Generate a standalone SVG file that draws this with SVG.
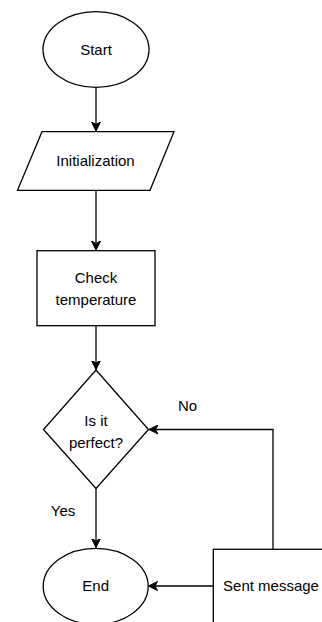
<svg xmlns="http://www.w3.org/2000/svg" width="322" height="622" viewBox="0 0 322 622">
<style>
.s{fill:#fff;stroke:#000;stroke-width:1.3}
.t{font-family:"Liberation Sans",Arial,sans-serif;font-size:15px;fill:#000;text-anchor:middle}
.c{fill:none;stroke:#000;stroke-width:1.3}
</style>
<defs>
<marker id="a" markerWidth="10" markerHeight="10" refX="9" refY="5" orient="auto" markerUnits="userSpaceOnUse">
<path d="M0,0.5 L9,5 L0,9.5 L2.5,5 Z" fill="#000" stroke="#000" stroke-width="1"/>
</marker>
</defs>
<g id="connectors">
<path class="c" d="M96,87.5 V131" marker-end="url(#a)"/>
<path class="c" d="M96,190 V250" marker-end="url(#a)"/>
<path class="c" d="M96,326 V369.5" marker-end="url(#a)"/>
<path class="c" d="M96,488 V547.5" marker-end="url(#a)"/>
<path class="c" d="M213,586 H148.5" marker-end="url(#a)"/>
<path class="c" d="M273,549 V429.5 H149" marker-end="url(#a)"/>
<text class="t" x="187.5" y="410.5">No</text>
<text class="t" x="63" y="516">Yes</text>
</g>
<g id="start">
<ellipse class="s" cx="96" cy="49.5" rx="53" ry="37.8"/>
<text class="t" x="96" y="55.3">Start</text>
</g>
<g id="init">
<polygon class="s" points="42,131.7 174,131.7 150,190.3 17.5,190.3"/>
<text class="t" x="95.5" y="166.3">Initialization</text>
</g>
<g id="check">
<rect class="s" x="37" y="250.7" width="118" height="75"/>
<text class="t" x="96" y="282.5">Check</text>
<text class="t" x="96" y="304.5">temperature</text>
</g>
<g id="decision">
<polygon class="s" points="96,370 148.5,429.5 96,488.5 43.5,429.5"/>
<text class="t" x="96" y="425.5">Is it</text>
<text class="t" x="96" y="447.5">perfect?</text>
</g>
<g id="end">
<ellipse class="s" cx="95.7" cy="586.3" rx="52.5" ry="38"/>
<text class="t" x="95.7" y="591.3">End</text>
</g>
<g id="sent">
<rect class="s" x="213.3" y="549.3" width="120" height="80"/>
<text class="t" x="271" y="591.3">Sent message</text>
</g>
</svg>
